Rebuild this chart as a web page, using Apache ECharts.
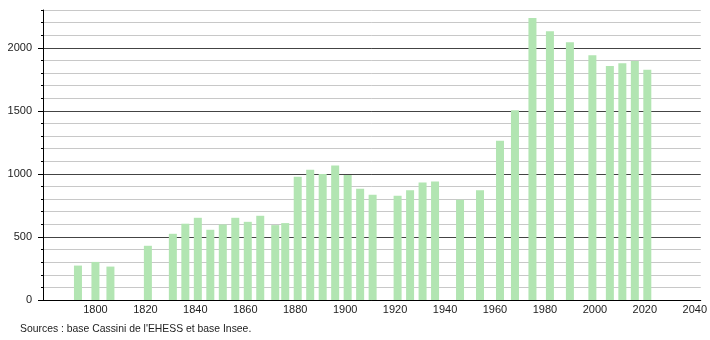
<!DOCTYPE html>
<html><head><meta charset="utf-8">
<script src="https://cdn.jsdelivr.net/npm/echarts@6/dist/echarts.min.js"></script>
<style>html,body{margin:0;padding:0;background:#fff}#c{width:710px;height:340px}</style>
</head><body><div id="c"></div>
<script>
const years = [1793,1800,1806,1821,1831,1836,1841,1846,1851,1856,1861,1866,1872,1876,1881,1886,1891,1896,1901,1906,1911,1921,1926,1931,1936,1946,1954,1962,1968,1975,1982,1990,1999,2006,2011,2016,2021];
const population = [273,302,265,430,525,605,652,557,599,652,620,668,594,610,978,1034,1000,1066,992,883,835,827,870,931,939,796,870,1264,1504,2236,2132,2045,1941,1855,1878,1896,1826];
const xTickLabels = [1800,1820,1840,1860,1880,1900,1920,1940,1960,1980,2000,2020,2040];
const yTickLabels = [0,500,1000,1500,2000];
const sourceText = "Sources : base Cassini de l'EHESS et base Insee.";

const chart = echarts.init(document.getElementById('c'), null, {renderer:'canvas'});
const font = 'Liberation Sans, Arial, sans-serif';
const plain = v => String(v);
chart.setOption({
  animation:false,
  grid:{left:43,top:10,width:658,height:290,containLabel:false},
  xAxis:{type:'value',min:1779,max:2042.4,
    axisLine:{show:true,onZero:false,lineStyle:{color:'#000',width:1}},
    axisTick:{show:false},splitLine:{show:false},
    axisLabel:{customValues:xTickLabels,formatter:plain,margin:4,fontSize:11,color:'#222',fontFamily:font}},
  yAxis:[
    {type:'value',min:0,max:2300,interval:100,
     axisLine:{show:true,lineStyle:{color:'#000',width:1}},
     axisTick:{show:true,length:2,lineStyle:{color:'#000'}},
     axisLabel:{show:false},
     splitLine:{show:true,lineStyle:{color:['#444','#c8c8c8','#c8c8c8','#c8c8c8','#c8c8c8'],width:1}}},
    {type:'value',min:0,max:2300,position:'left',
     axisLine:{show:false},
     axisTick:{show:true,length:5,customValues:yTickLabels,lineStyle:{color:'#000'}},
     axisLabel:{customValues:yTickLabels,formatter:plain,margin:11,fontSize:11,color:'#222',fontFamily:font},
     splitLine:{show:false}}
  ],
  series:[{type:'bar',yAxisIndex:0,barWidth:8,
    itemStyle:{color:'#b2e5b2'},
    data:years.map((y,i)=>[y,population[i]])}],
  graphic:[{type:'text',left:20,top:324,style:{text:sourceText,fontSize:10.4,fill:'#222',fontFamily:font}}]
});
</script></body></html>
